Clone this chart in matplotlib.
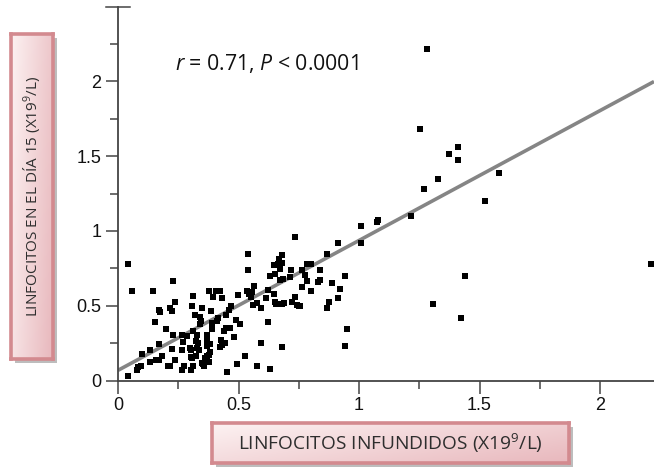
import numpy as np
import matplotlib
matplotlib.use("Agg")
import matplotlib.pyplot as plt
from matplotlib.patches import Rectangle

plt.rcParams['font.family'] = ['Liberation Sans', 'DejaVu Sans']
plt.rcParams['mathtext.fontset'] = 'custom'
plt.rcParams['mathtext.rm'] = 'Open Sans'
plt.rcParams['mathtext.it'] = 'Open Sans:italic'

# ---- data ----
x_infused = [0.04, 0.06, 0.144, 0.227, 0.238, 0.171, 0.174, 0.216, 0.225, 0.152, 0.199, 0.227, 0.171, 0.134,
             0.098, 0.084, 0.095, 0.077, 0.04, 0.134, 0.158, 0.181, 0.171, 0.209, 0.217, 0.224, 0.238, 0.266,
             0.275, 0.267, 0.264, 0.288, 0.303, 0.303, 0.311, 0.303, 0.313, 0.307, 0.313, 0.320, 0.329, 0.322,
             0.333, 0.340, 0.344, 0.350, 0.340, 0.329, 0.325, 0.337, 0.354, 0.358, 0.362, 0.376, 0.368, 0.379,
             0.382, 0.368, 0.382, 0.369, 0.389, 0.391, 0.387, 0.379, 0.396, 0.408, 0.423, 0.430, 0.410, 0.414,
             0.426, 0.433, 0.444, 0.438, 0.449, 0.454, 0.448, 0.469, 0.459, 0.499, 0.490, 0.506, 0.481, 0.492,
             0.528, 0.538, 0.538, 0.534, 0.545, 0.555, 0.552, 0.564, 0.562, 0.575, 0.593, 0.575, 0.595, 0.622,
             0.613, 0.621, 0.631, 0.631, 0.650, 0.646, 0.650, 0.655, 0.649, 0.663, 0.669, 0.679, 0.672, 0.680,
             0.672, 0.686, 0.680, 0.690, 0.679, 0.714, 0.718, 0.721, 0.734, 0.734, 0.742, 0.750, 0.755, 0.762,
             0.762, 0.776, 0.783, 0.783, 0.790, 0.801, 0.801, 0.831, 0.840, 0.838, 0.866, 0.866, 0.877, 0.887,
             0.914, 0.914, 0.921, 0.942, 0.952, 0.942, 1.008, 1.008, 1.073, 1.080, 1.216, 1.271, 1.253, 1.281,
             1.326, 1.375, 1.412, 1.412, 1.581, 1.524, 1.440, 1.309, 1.422, 2.212,
             0.271, 0.299, 0.306, 0.465, 0.423, 0.370, 0.360, 0.350]
y_day15 = [0.78, 0.60, 0.60, 0.667, 0.528, 0.473, 0.457, 0.484, 0.462, 0.388, 0.346, 0.301, 0.245, 0.207,
           0.176, 0.089, 0.094, 0.067, 0.027, 0.127, 0.138, 0.165, 0.140, 0.096, 0.094, 0.212, 0.138, 0.067,
           0.094, 0.207, 0.303, 0.296, 0.207, 0.067, 0.096, 0.156, 0.334, 0.495, 0.567, 0.439, 0.301, 0.263,
           0.252, 0.424, 0.401, 0.484, 0.380, 0.216, 0.163, 0.205, 0.111, 0.096, 0.134, 0.123, 0.163, 0.168,
           0.190, 0.230, 0.245, 0.301, 0.346, 0.386, 0.462, 0.595, 0.557, 0.595, 0.595, 0.553, 0.401, 0.420,
           0.268, 0.239, 0.250, 0.334, 0.350, 0.056, 0.435, 0.495, 0.468, 0.569, 0.406, 0.375, 0.290, 0.107,
           0.165, 0.847, 0.736, 0.597, 0.580, 0.589, 0.560, 0.635, 0.508, 0.517, 0.486, 0.096, 0.250, 0.388,
           0.553, 0.607, 0.696, 0.078, 0.713, 0.575, 0.528, 0.510, 0.769, 0.780, 0.814, 0.836, 0.747, 0.785,
           0.669, 0.680, 0.513, 0.520, 0.223, 0.691, 0.736, 0.528, 0.959, 0.557, 0.502, 0.500, 0.500, 0.624,
           0.740, 0.702, 0.664, 0.780, 0.780, 0.780, 0.597, 0.658, 0.670, 0.736, 0.847, 0.486, 0.528, 0.653,
           0.918, 0.553, 0.609, 0.696, 0.346, 0.232, 1.030, 0.918, 1.059, 1.070, 1.099, 1.280, 1.683, 2.214,
           1.349, 1.516, 1.561, 1.476, 1.389, 1.197, 0.696, 0.513, 0.417, 0.780,
           0.260, 0.215, 0.148, 0.353, 0.222, 0.270, 0.150, 0.120]
fit_intercept = 0.068
fit_slope = 0.868
x_ticks = [0, 0.5, 1, 1.5, 2]
x_tick_labels = ['0', '0.5', '1', '1.5', '2']
y_ticks = [0, 0.5, 1, 1.5, 2]
y_tick_labels = ['0', '0.5', '1', '1.5', '2']
annotation = r'$\it{r}$ = 0.71, $\it{P}$ < 0.0001'
x_label = r'LINFOCITOS INFUNDIDOS (X19$^{9}$/L)'
y_label = r'LINFOCITOS EN EL DÍA 15 (X19$^{9}$/L)'

W, H = 654, 472
fig = plt.figure(figsize=(W / 100, H / 100), dpi=100)

def fx(px):
    return px / W

def fy(py):
    return 1 - py / H

ax = fig.add_axes([fx(118), fy(380.5), fx(654 - 118), (380.5 - 6.5) / H])
ax.set_zorder(3)
ax.patch.set_alpha(0)
ax.set_xlim(0, 2.224)
ax.set_ylim(0, 2.5)

xl = np.array([0, 2.224])
ax.plot(xl, fit_intercept + fit_slope * xl, color='#858585', lw=2.6, zorder=2, solid_capstyle='butt')
ax.scatter(x_infused, y_day15, marker='s', s=14, color='black', linewidths=0, zorder=3, clip_on=False)

for s in ['top', 'right']:
    ax.spines[s].set_visible(False)
for s in ['left', 'bottom']:
    ax.spines[s].set_color('#444444')
    ax.spines[s].set_linewidth(1.3)

ax.set_xticks(x_ticks)
ax.set_xticklabels(x_tick_labels)
ax.set_yticks(y_ticks)
ax.set_yticklabels(y_tick_labels)
ax.set_xticks(np.arange(0.25, 2.2, 0.5), minor=True)
ax.set_yticks(np.arange(0.25, 2.5, 0.5), minor=True)
ax.tick_params(which='major', direction='out', length=9, width=1.1, color='#444444',
               labelsize=13, labelcolor='#111111', pad=3)
ax.tick_params(which='minor', direction='out', length=6, width=1.1, color='#444444')
ax.axhline(2.5, xmin=-0.022, xmax=0.022, color='#444444', lw=1.1, clip_on=False)

ax.text(0.237, 2.12, annotation, fontsize=15.3, color='#111111', va='center', ha='left',
        family='Open Sans', transform=ax.transData)

# label boxes with gradient + shadow
def label_box(x0, y0, x1, y1, text, rotation, size):
    sax = fig.add_axes([fx(x0 + 4), fy(y1 + 4), fx(x1 - x0), (y1 - y0) / H])
    sax.set_zorder(1)
    sax.set_axis_off()
    sax.add_patch(Rectangle((0, 0), 1, 1, transform=sax.transAxes, facecolor='#bdbdbd',
                            edgecolor='none'))
    bax = fig.add_axes([fx(x0), fy(y1), fx(x1 - x0), (y1 - y0) / H])
    bax.set_zorder(2)
    nx, ny = 200, 60
    gx = np.linspace(0, 1, nx)[None, :]
    gy = np.linspace(0, 1, ny)[:, None]
    if rotation == 90:
        t = 0.75 * gx + 0.25 * gy
    else:
        t = 0.6 * gx + 0.4 * gy
    c0 = np.array([0.99, 0.95, 0.95])
    c1 = np.array([0.91, 0.72, 0.74])
    img = c0[None, None, :] * (1 - t[..., None]) + c1[None, None, :] * t[..., None]
    bax.imshow(img, aspect='auto', extent=[0, 1, 0, 1], origin='upper')
    bax.set_xlim(0, 1)
    bax.set_ylim(0, 1)
    bax.set_xticks([])
    bax.set_yticks([])
    for s in bax.spines.values():
        s.set_color('#d38a8f')
        s.set_linewidth(2.6)
    bax.text(0.5, 0.5, text, rotation=rotation, ha='center', va='center', fontsize=size,
             color='#2e2e2e', family='Open Sans', transform=bax.transAxes)

label_box(11, 34, 53, 359, y_label, 90, 11)
label_box(212, 423, 569, 463, x_label, 0, 13.8)

fig.savefig('out.png', dpi=100)
